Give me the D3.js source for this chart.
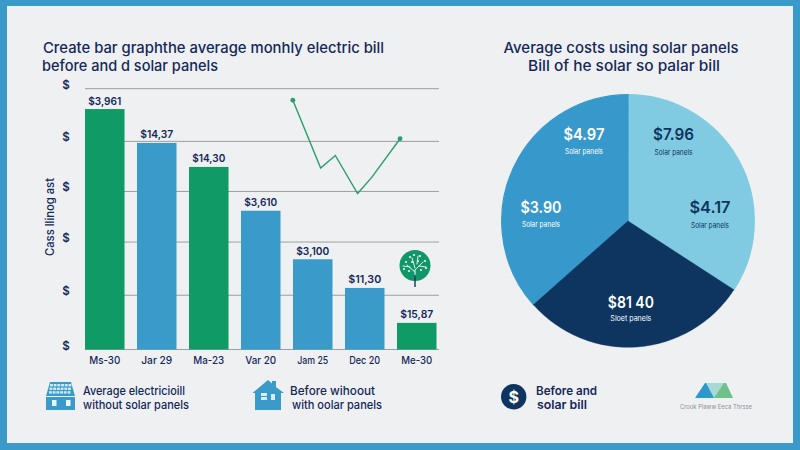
<!DOCTYPE html>
<html><head><meta charset="utf-8">
<style>html,body{margin:0;padding:0;background:#eff0f1;overflow:hidden}svg{display:block}text{font-family:Inter,Roboto,"Liberation Sans",sans-serif}</style>
<script src="https://cdn.jsdelivr.net/npm/d3@7/dist/d3.min.js"></script>
</head><body><svg id="c" width="800" height="450"></svg>
<script>
const categories=["Ms-30","Jar 29","Ma-23","Var 20","Jam 25","Dec 20","Me-30"];
const billValues=[4.61,3.96,3.50,2.66,1.73,1.18,0.51];
const billLabels=["$3,961","$14,37","$14,30","$3,610","$3,100","$11,30","$15,87"];
const billGroups=["g","b","g","b","b","b","g"];
const gridValues=[0,1.04,2.06,3.03,3.99,5];
const trendPos=[4.11,4.66,4.95,5.39,5.67,6.23];
const trendValues=[4.78,3.48,3.72,2.99,3.30,4.04];
const pieValues=[56,67,105.5,71.5,60];
const pieAmounts=["$7.96","$4.17","$81 40","$3.90","$4.97"];
const pieNotes=["Solar panels","Solar panels","Sloet panels","Solar panels","Solar panels"];
const pieGroups=["light","light","dark","mid","mid"];

const INK="#14285a",BLUE="#3a9bcb",GREEN="#0f9a66",NAVY="#0d3560",LIGHT="#80cbe1";
const svg=d3.select("#c");
svg.append("rect").attr("width",800).attr("height",450).attr("fill",BLUE);
svg.append("rect").attr("x",7).attr("y",6).attr("width",786).attr("height",437).attr("fill","#eff0f1");

function label(t,x,cy,w,size,weight,fill,anchor){
  const n=svg.append("text").text(t).attr("x",x).attr("y",cy).attr("dominant-baseline","central")
   .attr("font-size",size).attr("font-weight",weight||500).attr("fill",fill||INK).attr("text-anchor",anchor||"start");
  if(w) n.attr("textLength",w).attr("lengthAdjust","spacingAndGlyphs");
  return n;
}
label("Create bar graphthe average monhly electric bill",43,47.5,341,14.8,550);
label("before and d solar panels",42,65.5,176,14.8,550);
label("Average costs using solar panels",503.5,48,235,14.8,550);
label("Bill of he solar so palar bill",528,66,192,14.8,550);

// bars
const x=d3.scaleBand().domain(categories).range([85,436.5]).paddingInner(0.24).paddingOuter(0);
const y=d3.scaleLinear().domain([0,5]).range([349.5,88.7]);
const xLine=d3.scaleLinear().domain([0,7]).range([85,439]);
svg.append("g").selectAll("line").data(gridValues).join("line")
  .attr("x1",85).attr("x2",439).attr("y1",d=>y(d)).attr("y2",d=>y(d))
  .attr("stroke","#9b9fa1").attr("stroke-width",1);
svg.append("g").selectAll("rect").data(categories).join("rect")
  .attr("x",d=>x(d)).attr("width",x.bandwidth())
  .attr("y",(d,i)=>y(billValues[i])).attr("height",(d,i)=>y(0)-y(billValues[i]))
  .attr("fill",(d,i)=>billGroups[i]==="g"?GREEN:BLUE);
billLabels.forEach((t,i)=>label(t,x(categories[i])+x.bandwidth()/2,y(billValues[i])-8,33,10.5,600,INK,"middle"));
categories.forEach(c=>label(c,x(c)+x.bandwidth()/2,360.5,31,10.5,500,INK,"middle"));
gridValues.forEach(v=>label("$",66,y(v)-4,null,11.5,600,INK,"middle"));
svg.append("text").text("Cass llinog ast").attr("transform","translate(50,217) rotate(-90)")
  .attr("text-anchor","middle").attr("dominant-baseline","central").attr("font-size",11.5).attr("font-weight",500)
  .attr("fill",INK).attr("textLength",78).attr("lengthAdjust","spacingAndGlyphs");

// trend
const trend=d3.line().x(d=>xLine(d[0])).y(d=>y(d[1]));
const pts=trendPos.map((p,i)=>[p,trendValues[i]]);
svg.append("path").attr("d",trend(pts)).attr("fill","none").attr("stroke","#2a9e6e").attr("stroke-width",1.4);
svg.selectAll("circle.t").data([pts[0],pts[pts.length-1]]).join("circle").attr("class","t")
  .attr("cx",d=>xLine(d[0])).attr("cy",d=>y(d[1])).attr("r",2.4).attr("fill","#2a9e6e");

// pie: same-colour neighbours get a thicker self stroke so no seam shows, dark slice goes on top
const pieG=svg.append("g").attr("transform","translate(628,221)");
const arcs=d3.pie().sort(null)(pieValues);
const arc=d3.arc().innerRadius(0).outerRadius(126.3);
const colorOf={light:LIGHT,dark:NAVY,mid:"#3799cb"};
const order=arcs.map((d,i)=>({d,i})).sort((a,b)=>(pieGroups[a.i]==="dark")-(pieGroups[b.i]==="dark"));
pieG.selectAll("path").data(order).join("path").attr("d",o=>arc(o.d))
  .attr("fill",o=>colorOf[pieGroups[o.i]]).attr("stroke",o=>colorOf[pieGroups[o.i]])
  .attr("stroke-width",o=>pieGroups[o.i]==="dark"?0.4:1.2).attr("stroke-linejoin","round");
const labelArc=[[28,97],[81,83],[178,82],[278.5,88],[333,97]];
arcs.forEach((d,i)=>{
  const a=labelArc[i][0]*Math.PI/180,r=labelArc[i][1];
  const px=628+r*Math.sin(a),py=221-r*Math.cos(a);
  const ink=pieGroups[i]==="light"?NAVY:"#ffffff";
  label(pieAmounts[i],px,py-1,i==2?46:41,16.5,600,ink,"middle");
  label(pieNotes[i],px,py+(i==0||i==4?17:i==2?15.5:17),i==2?41:38,7.5,400,ink,"middle");
});

// legend texts
label("Average electricioill",83,390,102,12,550);
label("without solar panels",83,404,106,12,550);
label("Before wihoout",290,390,85,12,550);
label("with oolar panels",292,404,90,12,550);
label("Before and",536,390,61,12,600);
label("solar bill",537,404,50,12,600);

// solar house icon
const s=svg.append("g");
s.append("path").attr("d","M50 382H71L75 396V410H46V396Z").attr("fill",BLUE);
for(let r=0;r<3;r++)for(let k=0;k<6;k++)
  s.append("rect").attr("x",50+k*3.7-(r*.5)).attr("y",384+r*3.6).attr("width",2.9).attr("height",2.4).attr("fill","#cfe8f3");
s.append("rect").attr("x",46).attr("y",396).attr("width",29).attr("height",1).attr("fill","#eff0f1");
[52,66].forEach(p=>s.append("rect").attr("x",p).attr("y",400).attr("width",4.5).attr("height",6).attr("fill","#eaf5fa"));

// house icon
const h=svg.append("g");
h.append("path").attr("d","M252.5 393L268 380L272 383.5V381H276V387L284 393H281V410H255V393Z").attr("fill",BLUE);
h.append("rect").attr("x",261).attr("y",393).attr("width",6).attr("height",7).attr("fill","#dcecf5");
h.append("rect").attr("x",271).attr("y",394).attr("width",4).attr("height",6).attr("fill","#dcecf5");
h.append("line").attr("x1",261).attr("x2",267).attr("y1",396.5).attr("y2",396.5).attr("stroke",BLUE).attr("stroke-width",1);

// tree icon
const t=svg.append("g");
t.append("circle").attr("cx",415).attr("cy",265.5).attr("r",15.5).attr("fill","#11966a");
t.append("path").attr("d","M415 277V270M415 272L407 265M415 270L423 262M415 268L412 258M410 267L403 266M419 266L426 267M417 264L418 256")
  .attr("stroke","#e6f3ee").attr("stroke-width",1).attr("fill","none").attr("stroke-linecap","round");
t.append("line").attr("x1",415).attr("x2",415).attr("y1",275).attr("y2",287).attr("stroke","#14335a").attr("stroke-width",1.4);
[[406,262],[410,257],[414,255],[420,256],[425,261],[404,269],[409,271],[421,270],[426,268],[412,262],[418,261]].forEach(q=>
  t.append("circle").attr("cx",q[0]).attr("cy",q[1]).attr("r",1.1).attr("fill","#e6f3ee"));

// dollar badge
svg.append("circle").attr("cx",513.7).attr("cy",396.7).attr("r",12.7).attr("fill",NAVY);
label("$",513.7,397,null,16,700,"#ffffff","middle");

// logo
const g=svg.append("g");
g.append("path").attr("d","M695 398L705 383H712L718 398Z").attr("fill","#2f97cb");
g.append("path").attr("d","M714 398L723 383H726L733 398Z").attr("fill","#6fc08a");
g.append("path").attr("d","M706 383H724L714 398Z").attr("fill","#a8d9d5");
label("Crook Plaww Eeca Thrsse",680,406.5,72,6.2,400,"#8b9193");
</script></body></html>
